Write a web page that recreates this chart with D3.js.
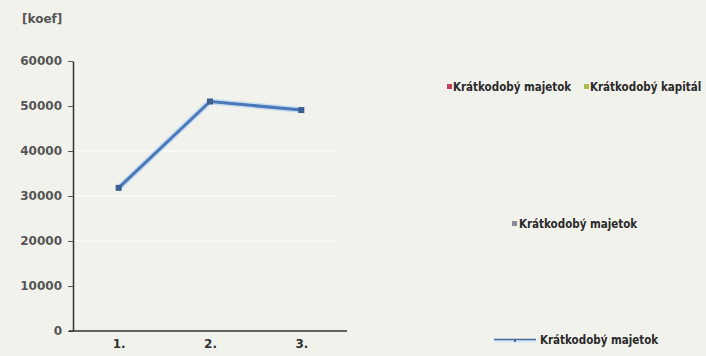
<!DOCTYPE html>
<html><head><meta charset="utf-8">
<script src="https://cdn.jsdelivr.net/npm/d3@7/dist/d3.min.js"></script>
<style>
html,body{margin:0;padding:0;background:#f2f2ed;}
svg{display:block;}
</style></head><body>
<svg id="c" width="706" height="356"></svg>
<script>
const categories = ["1.", "2.", "3."];
const values = [31800, 51000, 49100];
const yTicks = [0, 10000, 20000, 30000, 40000, 50000, 60000];
const gridTicks = [20000, 30000, 40000];
const unitLabel = "[koef]";
const legendTop = [{name: "Krátkodobý majetok", color: "#c0405a"}, {name: "Krátkodobý kapitál", color: "#a8c048"}];
const legendMid = [{name: "Krátkodobý majetok", color: "#8a8a9a"}];
const legendLine = [{name: "Krátkodobý majetok", color: "#4a6a9a"}];

const svg = d3.select("#c");
const x0 = 73, x1 = 347, yTop = 61, yBot = 331;
const x = d3.scalePoint().domain(categories).range([x0, x1]).padding(0.5);
const y = d3.scaleLinear().domain([0, 60000]).range([yBot, yTop]);

svg.append("text").attr("x", 22).attr("y", 23).text(unitLabel)
  .attr("font-family", "DejaVu Sans").attr("font-size", 12).attr("font-weight", "bold").attr("fill", "#555");

svg.append("g").selectAll("line").data(gridTicks).join("line")
  .attr("x1", x0 + 1).attr("x2", x1 - 12).attr("y1", d => y(d)).attr("y2", d => y(d))
  .attr("stroke", "#f8f8f5").attr("stroke-width", 1.5);

const yAxis = svg.append("g").attr("transform", `translate(${x0},0)`)
  .call(d3.axisLeft(y).tickValues(yTicks).tickFormat(d3.format("d")).tickSize(5).tickPadding(6).tickSizeOuter(0));
yAxis.select(".domain").attr("stroke", "#333").attr("stroke-width", 1.5);
yAxis.selectAll(".tick line").attr("stroke", "#555");
yAxis.selectAll("text").attr("font-family", "DejaVu Sans").attr("font-size", 12).attr("font-weight", "bold").attr("fill", "#555");

const xAxis = svg.append("g").attr("transform", `translate(0,${yBot})`)
  .call(d3.axisBottom(x).tickSize(0).tickPadding(8));
xAxis.select(".domain").attr("d", `M${x0 - 4},0H${x1}`).attr("stroke", "#333").attr("stroke-width", 1.5);
xAxis.selectAll("text").attr("font-family", "DejaVu Sans").attr("font-size", 12).attr("font-weight", "bold").attr("fill", "#333");

const pts = categories.map((c, i) => [x(c), y(values[i])]);
svg.append("path").attr("d", d3.line()(pts)).attr("fill", "none")
  .attr("stroke", "#c8dcf0").attr("stroke-width", 6).attr("stroke-linejoin", "round");
svg.append("path").attr("d", d3.line()(pts)).attr("fill", "none")
  .attr("stroke", "#4a78b8").attr("stroke-width", 3).attr("stroke-linejoin", "round");
svg.append("g").selectAll("rect").data(pts).join("rect")
  .attr("x", d => d[0] - 3).attr("y", d => d[1] - 3).attr("width", 6).attr("height", 6)
  .attr("fill", "#3e5f8e");

const lf = "DejaVu Sans Condensed";
const lt = svg.append("g").attr("font-family", lf).attr("font-size", 11.5).attr("font-weight", "bold").attr("fill", "#2a2a2a");
const topX = [447, 584];
legendTop.forEach((d, i) => {
  const xx = topX[i];
  lt.append("rect").attr("x", xx).attr("y", 84).attr("width", 5).attr("height", 5).attr("fill", d.color);
  lt.append("text").attr("x", xx + 6).attr("y", 91).text(d.name);
});
legendMid.forEach(d => {
  lt.append("rect").attr("x", 512).attr("y", 221).attr("width", 5).attr("height", 5).attr("fill", d.color);
  lt.append("text").attr("x", 519).attr("y", 228).text(d.name);
});
legendLine.forEach(d => {
  lt.append("line").attr("x1", 494).attr("x2", 536).attr("y1", 341).attr("y2", 341).attr("stroke", "#d4e6f6").attr("stroke-width", 3);
  lt.append("line").attr("x1", 494).attr("x2", 536).attr("y1", 339.5).attr("y2", 339.5).attr("stroke", d.color).attr("stroke-width", 1.5);
  lt.append("rect").attr("x", 514).attr("y", 339).attr("width", 2).attr("height", 3).attr("fill", d.color);
  lt.append("text").attr("x", 540).attr("y", 344).text(d.name);
});
</script></body></html>
